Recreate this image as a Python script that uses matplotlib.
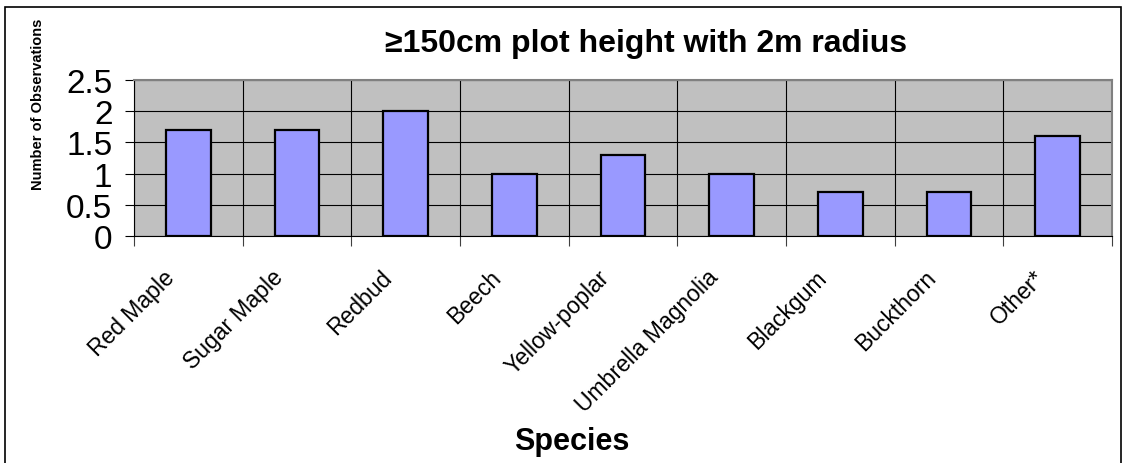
import matplotlib.pyplot as plt
from matplotlib.patches import Rectangle
from matplotlib.transforms import ScaledTranslation
import numpy as np

plt.rcParams['font.family'] = ['Liberation Sans', 'DejaVu Sans']

species = ['Red Maple', 'Sugar Maple', 'Redbud', 'Beech', 'Yellow-poplar',
           'Umbrella Magnolia', 'Blackgum', 'Buckthorn', 'Other*']
counts = [1.7, 1.7, 2.0, 1.0, 1.3, 1.0, 0.7, 0.7, 1.6]
yticks = [0, 0.5, 1, 1.5, 2, 2.5]
ytick_labels = ['0', '0.5', '1', '1.5', '2', '2.5']

W, H = 1126, 464
fig = plt.figure(figsize=(W / 100, H / 100), dpi=100)

# outer chart border
fig.patches.append(Rectangle((5 / W, -0.05), 1116 / W, 1.05 - 8 / H,
                             transform=fig.transFigure, fill=False,
                             edgecolor='black', linewidth=1.2))

ax = fig.add_axes([134 / W, (H - 237) / H, (1112 - 134) / W, (237 - 81) / H])
ax.set_facecolor('#C0C0C0')

x = np.arange(len(species))
ax.bar(x, counts, width=0.41, color='#9999FF', edgecolor='black',
       linewidth=1.6, zorder=3)

ax.set_xlim(-0.5, len(species) - 0.5)
ax.set_ylim(0, 2.5)

ax.set_yticks(yticks)
ax.set_yticklabels(ytick_labels, fontsize=24)
ax.tick_params(axis='y', length=6.5, width=0.8, pad=9, color='black')

ax.set_xticks(x)
ax.set_xticks(np.arange(-0.5, len(species)), minor=True)
ax.tick_params(axis='x', which='major', length=0, pad=27)
ax.tick_params(axis='x', which='minor', length=7, width=0.8, color='#404040')
ax.set_xticklabels(species, fontsize=16.5, rotation=45, ha='right',
                   va='center', rotation_mode='anchor')
off = ScaledTranslation(-17 / 100, 0, fig.dpi_scale_trans)
for lab in ax.get_xticklabels():
    lab.set_transform(lab.get_transform() + off)

ax.grid(axis='y', which='major', color='black', linewidth=0.8, zorder=1)
ax.grid(axis='x', which='minor', color='black', linewidth=0.8, zorder=1)
ax.set_axisbelow(True)

for side in ['top', 'right']:
    ax.spines[side].set_color('#808080')
    ax.spines[side].set_linewidth(1.5)
for side in ['left', 'bottom']:
    ax.spines[side].set_color('black')
    ax.spines[side].set_linewidth(0.8)

fig.text(646 / W, 1 - 44 / H, '≥150cm plot height with 2m radius',
         ha='center', va='center', fontsize=23, fontweight='bold')
fig.text(572 / W, 1 - 442 / H, 'Species', ha='center', va='center',
         fontsize=22, fontweight='bold')
fig.text(38 / W, 1 - 104 / H, 'Number of Observations', ha='center',
         va='center', rotation=90, fontsize=10.5, fontweight='bold')

fig.savefig('out.png', dpi=100)
